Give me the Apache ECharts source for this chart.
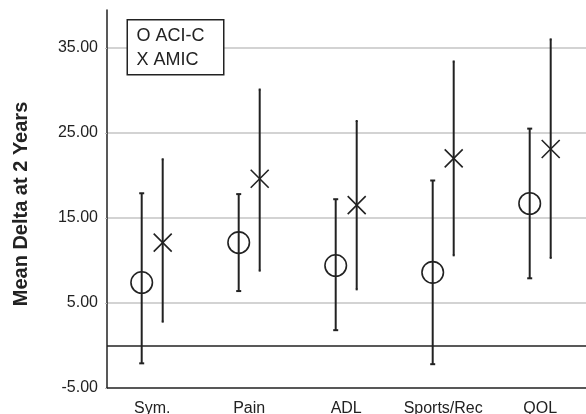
<!DOCTYPE html>
<html>
<head>
<meta charset="utf-8">
<script src="https://cdn.jsdelivr.net/npm/echarts@6/dist/echarts.min.js"></script>
<style>
html,body{margin:0;padding:0;background:#fff;}
#c{width:586px;height:414px;}
</style>
</head>
<body>
<div id="c"></div>
<script>
const categories = ['Sym.', 'Pain', 'ADL', 'Sports/Rec', 'QOL'];
const aciMean = [7.4, 12.1, 9.4, 8.6, 16.7];
const aciLow = [-2.1, 6.4, 1.8, -2.2, 7.9];
const aciHigh = [17.9, 17.8, 17.2, 19.4, 25.5];
const amicMean = [12.1, 19.6, 16.5, 22.0, 23.1];
const amicLow = [2.8, 8.8, 6.6, 10.6, 10.3];
const amicHigh = [21.9, 30.1, 26.4, 33.4, 36.0];
const yTicks = [-5, 5, 15, 25, 35];
const legendLines = ['O ACI-C', 'X AMIC'];
const yTitle = 'Mean Delta at 2 Years';

const FONT = '"Liberation Sans", Arial, sans-serif';
const INK = '#222';
const Y_MIN = -5, Y_MAX = 39.45;

function errorBar(offset, capHalf) {
  return function (params, api) {
    const x = api.coord([api.value(0), 0])[0] + offset;
    const yLo = api.coord([api.value(0), api.value(1)])[1];
    const yHi = api.coord([api.value(0), api.value(2)])[1];
    const st = { stroke: INK, lineWidth: 2 };
    return {
      type: 'group',
      children: [
        { type: 'line', shape: { x1: x, y1: yLo, x2: x, y2: yHi }, style: st },
        { type: 'line', shape: { x1: x - capHalf, y1: yLo, x2: x + capHalf, y2: yLo }, style: st },
        { type: 'line', shape: { x1: x - capHalf, y1: yHi, x2: x + capHalf, y2: yHi }, style: st }
      ]
    };
  };
}

const chart = echarts.init(document.getElementById('c'), null, { renderer: 'canvas' });
chart.setOption({
  animation: false,
  backgroundColor: '#fff',
  textStyle: { fontFamily: FONT },
  grid: [
    { left: 107, top: 10, right: 0, height: 378, containLabel: false, outerBoundsMode: 'none' },
    { left: 103.7, top: 10, width: 485, height: 378, containLabel: false, outerBoundsMode: 'none' }
  ],
  xAxis: [
    {
      gridIndex: 0, type: 'value', min: 0, max: 1,
      axisLine: { show: true, onZero: false, lineStyle: { color: INK, width: 1.5 } },
      axisTick: { show: false }, axisLabel: { show: false }, splitLine: { show: false }
    },
    {
      gridIndex: 1, type: 'category', data: categories, boundaryGap: true,
      axisLine: { show: false }, axisTick: { show: false },
      axisLabel: { interval: 0, color: INK, fontSize: 16, fontFamily: FONT, margin: 13 }
    }
  ],
  yAxis: [
    {
      gridIndex: 0, type: 'value', min: Y_MIN, max: Y_MAX, interval: 10,
      axisLine: { show: true, lineStyle: { color: INK, width: 1.5 } },
      axisTick: { show: true, length: 2, lineStyle: { color: '#bbb' } },
      axisLabel: {
        color: INK, fontSize: 16, fontFamily: FONT, margin: 9, showMaxLabel: false,
        formatter: function (v) {
          return yTicks.some(t => Math.abs(t - v) < 1e-6) ? v.toFixed(2) : '';
        }
      },
      splitLine: { show: true, showMinLine: false, showMaxLine: false, lineStyle: { color: '#c4c4c4', width: 1.5 } }
    },
    {
      gridIndex: 1, type: 'value', min: Y_MIN, max: Y_MAX, interval: 10, show: false,
      splitLine: { show: false }
    }
  ],
  series: [
    {
      type: 'line', xAxisIndex: 0, yAxisIndex: 0, data: [], silent: true,
      markLine: {
        silent: true, symbol: 'none', label: { show: false },
        lineStyle: { color: INK, width: 1.5, type: 'solid' },
        data: [{ yAxis: 0 }]
      }
    },
    {
      name: 'ACI-C bars', type: 'custom', xAxisIndex: 1, yAxisIndex: 1,
      renderItem: errorBar(-10.5, 2.5),
      encode: { x: 0, y: [1, 2] },
      data: categories.map((c, i) => [i, aciLow[i], aciHigh[i]]),
      z: 3
    },
    {
      name: 'AMIC bars', type: 'custom', xAxisIndex: 1, yAxisIndex: 1,
      renderItem: errorBar(10.5, 1),
      encode: { x: 0, y: [1, 2] },
      data: categories.map((c, i) => [i, amicLow[i], amicHigh[i]]),
      z: 3
    },
    {
      name: 'ACI-C', type: 'scatter', xAxisIndex: 1, yAxisIndex: 1,
      symbol: 'circle', symbolSize: 21.5, symbolOffset: [-10.5, 0],
      itemStyle: { color: 'rgba(0,0,0,0)', borderColor: INK, borderWidth: 1.6, opacity: 1 },
      data: categories.map((c, i) => [i, aciMean[i]]),
      z: 4
    },
    {
      name: 'AMIC', type: 'scatter', xAxisIndex: 1, yAxisIndex: 1,
      symbol: 'path://M0,0L18,18M18,0L0,18', symbolSize: 18, symbolOffset: [10.5, 0],
      itemStyle: { color: 'rgba(0,0,0,0)', borderColor: INK, borderWidth: 1.6, opacity: 1 },
      data: categories.map((c, i) => [i, amicMean[i]]),
      z: 4
    }
  ],
  graphic: [
    {
      type: 'rect', left: 126.5, top: 19, z: 10,
      shape: { width: 96.5, height: 55 },
      style: { fill: '#fff', stroke: INK, lineWidth: 1.5 }
    },
    {
      type: 'text', x: 136.5, y: 36, z: 11,
      style: { text: legendLines[0], fill: INK, font: '18px ' + FONT, textVerticalAlign: 'middle', textAlign: 'left' }
    },
    {
      type: 'text', x: 136.5, y: 60, z: 11,
      style: { text: legendLines[1], fill: INK, font: '18px ' + FONT, textVerticalAlign: 'middle', textAlign: 'left' }
    },
    {
      type: 'text', x: 21, y: 204, rotation: Math.PI / 2, z: 11,
      style: { text: yTitle, fill: INK, font: 'bold 20px ' + FONT, textVerticalAlign: 'middle', textAlign: 'center' }
    }
  ]
});
</script>
</body>
</html>
